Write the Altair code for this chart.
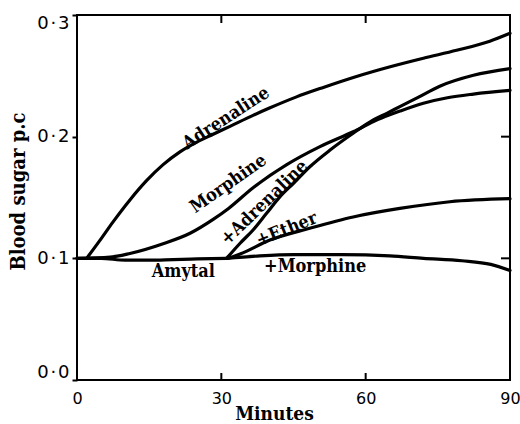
import altair as alt
import pandas as pd

# ---- data ----
adr_x = [2.0, 4.8, 7.5, 11.0, 14.5, 17.9, 21.4, 24.9, 28.3, 31.8, 36.6, 40.0, 45.5, 51.2, 58.1, 65.1, 72.0, 78.9, 85.8, 90]
adr_y = [0.100, 0.115, 0.130, 0.148, 0.164, 0.177, 0.1875, 0.1955, 0.202, 0.2085, 0.2175, 0.2235, 0.2325, 0.2405, 0.2495, 0.2575, 0.2645, 0.271, 0.2785, 0.285]

mor_x = [0, 6.9, 11.0, 17.9, 23.5, 28.3, 31.5, 36.6, 43.6, 50.5, 57.4, 62.5, 67.1, 72.0, 77.0, 82.4, 90]
mor_y = [0.100, 0.101, 0.104, 0.112, 0.1206, 0.132, 0.141, 0.158, 0.177, 0.1918, 0.204, 0.214, 0.221, 0.2275, 0.232, 0.235, 0.238]

amy_x = [0, 5, 10, 15, 20, 25, 31]
amy_y = [0.100, 0.100, 0.0985, 0.0985, 0.099, 0.0995, 0.100]

padr_x = [31.1, 33.9, 36.6, 39.4, 42.2, 45.0, 48.4, 52.6, 57.4, 61.6, 64.4, 67.1, 71.0, 75.4, 82.4, 90]
padr_y = [0.100, 0.1124, 0.1233, 0.137, 0.1507, 0.1617, 0.1753, 0.189, 0.2028, 0.2137, 0.2192, 0.2247, 0.2325, 0.2415, 0.2505, 0.256]

peth_x = [31.5, 33.9, 40.1, 48.4, 57.4, 67.1, 77.5, 90]
peth_y = [0.100, 0.1035, 0.115, 0.1247, 0.134, 0.141, 0.1465, 0.149]

pmor_x = [31, 38, 45, 55, 65, 72, 80, 86, 90]
pmor_y = [0.100, 0.102, 0.103, 0.103, 0.102, 0.100, 0.098, 0.095, 0.090]

label_text = ["Adrenaline", "Morphine", "+Adrenaline", "+Ether", "Amytal", "+Morphine"]
label_x = [31.0, 31.5, 39.0, 43.6, 22.1, 49.5]
label_y = [0.215, 0.161, 0.1455, 0.1235, 0.089, 0.093]
label_angle = [327, 325, 316, 338, 0, 0]

x_ticks = [0, 30, 60, 90]
y_ticks = [0.0, 0.1, 0.2, 0.3]
inner_x_ticks = [30, 60]
inner_y_ticks = [0.1, 0.2]

W, H = 433, 365
SERIF = "DejaVu Serif Condensed, DejaVu Serif"
SANS = "DejaVu Sans"

rows = []
for name, xs, ys in [("Adrenaline", adr_x, adr_y), ("Morphine", mor_x, mor_y),
                     ("Amytal", amy_x, amy_y), ("+Adrenaline", padr_x, padr_y),
                     ("+Ether", peth_x, peth_y), ("+Morphine", pmor_x, pmor_y)]:
    for a, b in zip(xs, ys):
        rows.append({"series": name, "x": a, "y": b})
lines_df = pd.DataFrame(rows)
labels_df = pd.DataFrame({"text": label_text, "x": label_x, "y": label_y, "a": label_angle})
xt_df = pd.DataFrame({"x": inner_x_ticks})
yt_df = pd.DataFrame({"y": inner_y_ticks})

xscale = alt.Scale(domain=[0, 90], nice=False, zero=False)
yscale = alt.Scale(domain=[0, 0.3], nice=False, zero=False)

lines = alt.Chart(lines_df).mark_line(
    color="black", strokeWidth=3.2, interpolate="monotone", strokeCap="round"
).encode(
    x=alt.X("x:Q", scale=xscale, axis=alt.Axis(
        values=x_ticks, title="Minutes", tickSize=0, domain=False, grid=False,
        labelFont=SANS, labelFontSize=16, labelColor="black", labelPadding=10,
        labelFlush=False, titleFont=SERIF, titleFontSize=19, titleFontWeight="bold",
        titleColor="black", titleX=197, titleY=39, titleBaseline="alphabetic")),
    y=alt.Y("y:Q", scale=yscale, axis=alt.Axis(
        values=y_ticks, title="Blood sugar p.c", tickSize=5, tickWidth=2, tickColor="black",
        domain=False, grid=False,
        labelExpr="replace(format(datum.value, '.1f'), '.', '\u200a·\u200a')",
        labelFont=SANS, labelFontSize=18, labelColor="black", labelPadding=3,
        labelFlush=True, labelFlushOffset=1,
        titleFont=SERIF, titleFontSize=20, titleFontWeight="bold",
        titleColor="black", titleX=-59, titleY=176, titleBaseline="middle")),
    detail="series:N",
)

labels = alt.Chart(labels_df).mark_text(
    font=SERIF, fontSize=18, fontWeight="bold", color="black", align="center", baseline="middle"
).encode(
    x=alt.X("x:Q", scale=xscale),
    y=alt.Y("y:Q", scale=yscale),
    text="text:N",
    angle=alt.Angle("a:Q", scale=None),
)

bottom_ticks = alt.Chart(xt_df).mark_rule(color="black", strokeWidth=2).encode(
    x=alt.X("x:Q", scale=xscale), y=alt.value(H), y2=alt.value(H - 7))
top_ticks = alt.Chart(xt_df).mark_rule(color="black", strokeWidth=2).encode(
    x=alt.X("x:Q", scale=xscale), y=alt.value(0), y2=alt.value(8))
right_ticks = alt.Chart(yt_df).mark_rule(color="black", strokeWidth=2).encode(
    y=alt.Y("y:Q", scale=yscale), x=alt.value(W), x2=alt.value(W - 9))

chart = alt.layer(lines, labels, bottom_ticks, top_ticks, right_ticks).properties(
    width=W, height=H,
    autosize=alt.AutoSizeParams(type="none"),
    padding={"left": 77, "top": 15, "right": 10, "bottom": 44},
    background="white",
).configure_view(stroke="black", strokeWidth=2)

chart.save("out.html", embed_options={"renderer": "svg", "actions": False})
